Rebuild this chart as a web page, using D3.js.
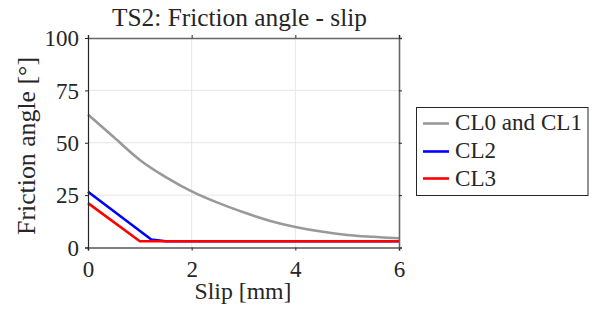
<!DOCTYPE html>
<html><head><meta charset="utf-8">
<script src="https://cdn.jsdelivr.net/npm/d3@7"></script>
</head><body style="margin:0">
<script>
const title = "TS2: Friction angle - slip";
const xLabel = "Slip [mm]";
const yLabel = "Friction angle [\u00B0]";
const xTicks = [0, 2, 4, 6];
const yTicks = [0, 25, 50, 75, 100];
const seriesNames = ["CL0 and CL1", "CL2", "CL3"];
const seriesColors = ["#999999", "#0000ff", "#ff0000"];
const slipCL01 = [0, 0.5, 1, 1.5, 2, 2.5, 3, 3.5, 4, 4.5, 5, 5.5, 6];
const angleCL01 = [63.5, 52.6, 41.8, 33.6, 26.8, 21.4, 16.8, 12.8, 9.8, 7.6, 6.0, 5.1, 4.4];
const slipCL2 = [0, 1.22, 1.5, 6];
const angleCL2 = [26.6, 3.8, 3.0, 3.0];
const slipCL3 = [0, 1.0, 6];
const angleCL3 = [21.2, 3.0, 3.0];

const FONT = '"Liberation Serif"';
const INK = "#262626";
const W = 593, H = 312;
const m = {l: 88, r: 399, t: 38, b: 247.5};
const svg = d3.select("body").append("svg").attr("width", W).attr("height", H);
const x = d3.scaleLinear().domain([0, 6]).range([m.l, m.r]);
const y = d3.scaleLinear().domain([0, 100]).range([m.b, m.t]);

function fit(sel, target) {
  sel.attr("font-family", FONT).attr("font-size", 20);
  const w = sel.node().getComputedTextLength();
  sel.attr("font-size", 20 * target / w);
  return sel;
}

// title & labels first
fit(svg.append("text").attr("x", (m.l + m.r) / 2 - 4).attr("y", 26).attr("text-anchor", "middle")
  .attr("fill", INK).text(title), 255);
fit(svg.append("text").attr("x", 243).attr("y", 299).attr("text-anchor", "middle")
  .attr("fill", INK).text(xLabel), 97);
fit(svg.append("text").attr("transform", `translate(35,146) rotate(-90)`)
  .attr("text-anchor", "middle").attr("fill", INK).text(yLabel), 178);

// grid
const g = svg.append("g");
g.selectAll(".gx").data(xTicks.slice(1, -1)).join("line")
  .attr("x1", d => x(d)).attr("x2", d => x(d)).attr("y1", m.t).attr("y2", m.b)
  .attr("stroke", "#e6e6e6").attr("stroke-width", 1);
g.selectAll(".gy").data(yTicks.slice(1, -1)).join("line")
  .attr("y1", d => y(d)).attr("y2", d => y(d)).attr("x1", m.l).attr("x2", m.r)
  .attr("stroke", "#e6e6e6").attr("stroke-width", 1);

// series
const series = [
  {xs: slipCL01, ys: angleCL01, curve: d3.curveCatmullRom.alpha(0.5)},
  {xs: slipCL2, ys: angleCL2, curve: d3.curveLinear},
  {xs: slipCL3, ys: angleCL3, curve: d3.curveLinear}
];
series.forEach((s, i) => {
  const pts = s.xs.map((v, j) => [v, s.ys[j]]);
  svg.append("path").datum(pts)
    .attr("d", d3.line().x(d => x(d[0])).y(d => y(d[1])).curve(s.curve))
    .attr("fill", "none").attr("stroke", seriesColors[i]).attr("stroke-width", 2.6)
    .attr("stroke-linejoin", "round");
});

// axes
const fs = 23;
const axB = svg.append("g").attr("transform", `translate(0,${m.b})`)
  .call(d3.axisBottom(x).tickValues(xTicks).tickSize(3).tickPadding(8).tickFormat(d3.format("d")));
const axT = svg.append("g").attr("transform", `translate(0,${m.t})`)
  .call(d3.axisTop(x).tickValues(xTicks).tickSize(3).tickFormat(""));
const axL = svg.append("g").attr("transform", `translate(${m.l},0)`)
  .call(d3.axisLeft(y).tickValues(yTicks).tickSize(3).tickPadding(6).tickFormat(d3.format("d")));
const axR = svg.append("g").attr("transform", `translate(${m.r},0)`)
  .call(d3.axisRight(y).tickValues(yTicks).tickSize(3).tickFormat(""));
[axB, axT, axL, axR].forEach(a => {
  a.attr("font-family", null).attr("font-size", null);
  a.selectAll("text").attr("font-family", FONT).attr("font-size", fs).attr("fill", INK);
  a.selectAll("line").attr("stroke", INK);
});
axB.select(".domain").attr("stroke", "#808080").attr("stroke-width", 2);
axT.select(".domain").attr("stroke", "#666").attr("stroke-width", 1.6);
axR.select(".domain").attr("stroke", "#666").attr("stroke-width", 1.6);
axL.select(".domain").attr("stroke", INK).attr("stroke-width", 1.2);
axB.selectAll("text").attr("dy", null).attr("y", 29.5);
axL.selectAll("text").attr("dy", "0.34em");

// legend
const lg = svg.append("g");
lg.append("rect").attr("x", 416.5).attr("y", 107.5).attr("width", 171.5).attr("height", 88)
  .attr("fill", "#fff").attr("stroke", INK).attr("stroke-width", 1);
const rowY = [123.5, 151.5, 178.5];
const baseY = [130, 158, 186];
let legSize = null;
seriesNames.forEach((n, i) => {
  lg.append("line").attr("x1", 423).attr("x2", 449).attr("y1", rowY[i]).attr("y2", rowY[i])
    .attr("stroke", seriesColors[i]).attr("stroke-width", 2.6);
  const t = lg.append("text").attr("x", 455).attr("y", baseY[i]).attr("fill", INK).text(n);
  if (i === 0) { fit(t, 127); legSize = +t.attr("font-size"); }
  else t.attr("font-family", FONT).attr("font-size", legSize);
});
</script>
</body></html>
